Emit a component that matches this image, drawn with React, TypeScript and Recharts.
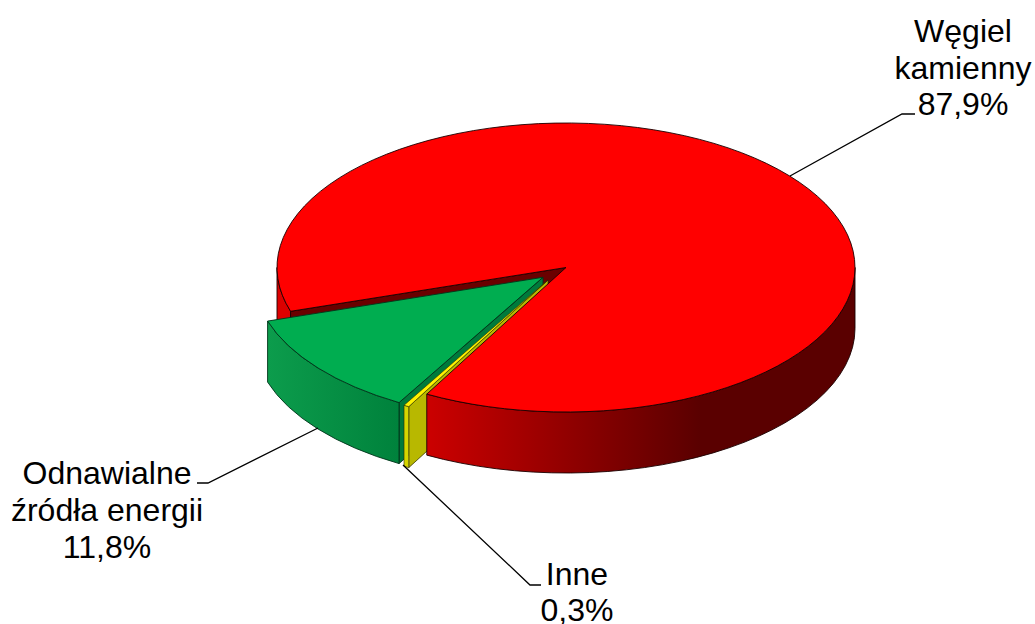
import React from 'react';
import { PieChart, Pie } from 'recharts';

const categories = ['Węgiel kamienny', 'Odnawialne źródła energii', 'Inne'];
const shares = [87.9, 11.8, 0.3];
const labelRows = [['Węgiel', 'kamienny'], ['Odnawialne', 'źródła energii'], ['Inne']];

const pieData = categories.map((name, i) => ({ name, value: shares[i] }));

const W = 1035, H = 624;
const CX = 566, CY = 267.5, RX = 289, RY = 144.5, DEPTH = 61;
const EDGE = '#1a0000';
const SW = 0.9;
const offsets = [[0, 0], [-23, 9.8], [-18, 12.5]];
const labelPos = [
  { x: 963, y: 42, lh: 36.5 },
  { x: 107, y: 484, lh: 37 },
  { x: 577, y: 585, lh: 36 },
];
const leaders = [
  '790,176 902,114 915,114',
  '318,428 208,483 197,483',
  '403,465 530,585 541,585',
];

const pt = (a: number, dx: number, dy: number, cx = CX, cy = CY) => {
  const t = (a * Math.PI) / 180;
  return [cx + dx + RX * Math.cos(t), cy + dy - RY * Math.sin(t)];
};
const topPath = (a1: number, a2: number, dx: number, dy: number, cx: number, cy: number) => {
  const p1 = pt(a1, dx, dy, cx, cy), p2 = pt(a2, dx, dy, cx, cy);
  const large = Math.abs(a2 - a1) > 180 ? 1 : 0;
  return `M${cx + dx},${cy + dy} L${p1[0]},${p1[1]} A${RX},${RY} 0 ${large} 0 ${p2[0]},${p2[1]} Z`;
};
const wallPath = (a1: number, a2: number, dx: number, dy: number, cx: number, cy: number) => {
  const p1 = pt(a1, dx, dy, cx, cy), p2 = pt(a2, dx, dy, cx, cy);
  return `M${p1[0]},${p1[1]} A${RX},${RY} 0 0 0 ${p2[0]},${p2[1]} L${p2[0]},${p2[1] + DEPTH} A${RX},${RY} 0 0 1 ${p1[0]},${p1[1] + DEPTH} Z`;
};
const cutPath = (a: number, dx: number, dy: number, cx: number, cy: number) => {
  const p = pt(a, dx, dy, cx, cy);
  const ax = cx + dx, ay = cy + dy;
  return `M${ax},${ay} L${p[0]},${p[1]} L${p[0]},${p[1] + DEPTH} L${ax},${ay + DEPTH} Z`;
};
const P = (d: string, fill: string, stroke = EDGE, sw = SW) => (
  <path d={d} fill={fill} stroke={stroke} strokeWidth={sw} strokeLinejoin="round" />
);

const BackShape = (props: any) => {
  const { cx, cy, startAngle, endAngle, index } = props;
  const [dx, dy] = offsets[index];
  if (index === 0) {
    return (
      <g>
        {P(wallPath(180, endAngle, dx, dy, cx, cy), '#dc0000')}
        {P(cutPath(endAngle, dx, dy, cx, cy), '#6a0000')}
      </g>
    );
  }
  if (index === 1) {
    return (
      <g>
        <defs>
          <linearGradient id="greenWall" gradientUnits="userSpaceOnUse" x1="268" y1="0" x2="398" y2="0">
            <stop offset="0" stopColor="#0c9c4c" />
            <stop offset="1" stopColor="#00823c" />
          </linearGradient>
        </defs>
        {P(cutPath(endAngle, dx, dy, cx, cy), '#007a3c', '#00331a')}
        {P(wallPath(startAngle, endAngle, dx, dy, cx, cy), 'url(#greenWall)', '#00331a')}
        {P(topPath(startAngle, endAngle, dx, dy, cx, cy), '#00ad50', '#00331a')}
      </g>
    );
  }
  return <g>{P(cutPath(endAngle, dx, dy, cx, cy), '#b8b800', '#2a2a00', 0.7)}</g>;
};

const FrontShape = (props: any) => {
  const { cx, cy, startAngle, endAngle, index } = props;
  const [dx, dy] = offsets[index];
  if (index === 0) {
    return (
      <g>
        <defs>
          <linearGradient id="redWall" gradientUnits="userSpaceOnUse" x1="426" y1="0" x2="700" y2="0">
            <stop offset="0" stopColor="#cc0000" />
            <stop offset="1" stopColor="#5a0000" />
          </linearGradient>
        </defs>
        {P(wallPath(startAngle, 0, dx, dy, cx, cy), 'url(#redWall)')}
        {P(topPath(startAngle, endAngle, dx, dy, cx, cy), '#ff0000')}
      </g>
    );
  }
  if (index === 2) {
    return (
      <g>
        {P(wallPath(startAngle, endAngle, dx, dy, cx, cy), '#d6d600', '#2a2a00', 0.6)}
        {P(topPath(startAngle, endAngle, dx, dy, cx, cy), '#fff200', '#2a2a00', 0.6)}
      </g>
    );
  }
  return <g />;
};

const SliceLabel = (props: any) => {
  const { index, value } = props;
  const pos = labelPos[index];
  const rows = [...labelRows[index], `${Number(value).toFixed(1).replace('.', ',')}%`];
  return (
    <g>
      <polyline points={leaders[index]} fill="none" stroke="#000" strokeWidth={1.3} />
      <text textAnchor="middle" fontFamily="Liberation Sans, Arial, sans-serif" fontSize={32} fill="#000">
        {rows.map((r, i) => (
          <tspan key={i} x={pos.x} y={pos.y + i * pos.lh}>{r}</tspan>
        ))}
      </text>
    </g>
  );
};

export default function App() {
  const pieProps = {
    data: pieData,
    dataKey: 'value',
    nameKey: 'name',
    cx: CX,
    cy: CY,
    innerRadius: 0,
    outerRadius: RX,
    startAngle: -118.8,
    endAngle: 241.2,
    paddingAngle: 0,
    isAnimationActive: false,
    stroke: 'none',
    rootTabIndex: -1,
  };
  return (
    <div style={{ position: 'absolute', left: 0, top: 0, width: W, height: H, background: '#fff' }}>
      <PieChart width={W} height={H} margin={{ top: 0, right: 0, bottom: 0, left: 0 }}>
        <Pie {...pieProps} shape={BackShape} label={false} labelLine={false} />
        <Pie {...pieProps} shape={FrontShape} label={SliceLabel} labelLine={false} />
      </PieChart>
    </div>
  );
}
